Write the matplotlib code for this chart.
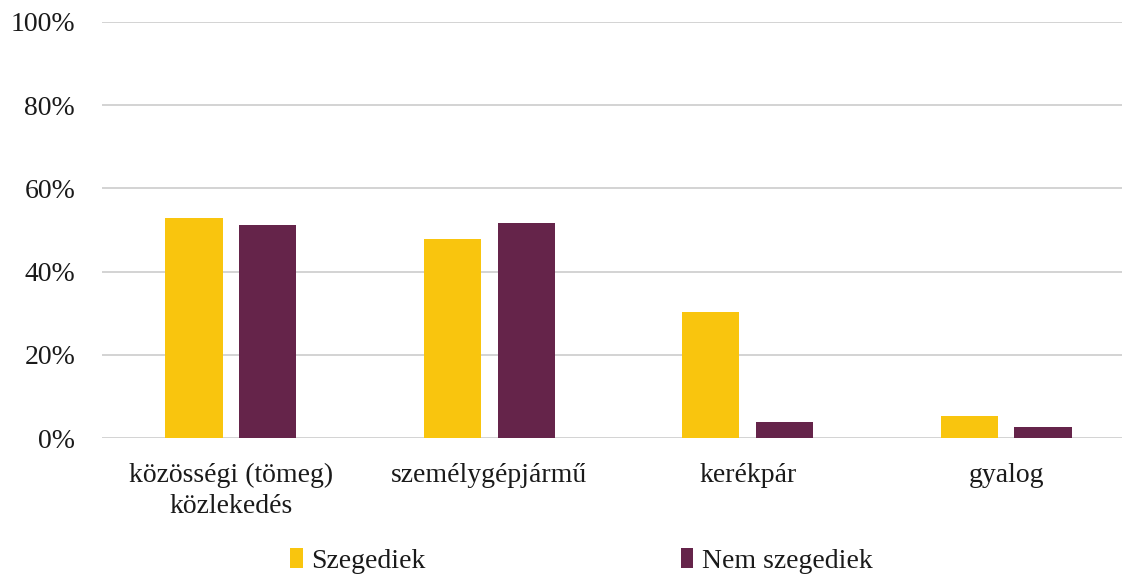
import numpy as np
import matplotlib.pyplot as plt
from matplotlib.ticker import PercentFormatter

categories = ['közösségi (tömeg)\nközlekedés', 'személygépjármű', 'kerékpár', 'gyalog']
szegediek = [52.8, 47.9, 30.4, 5.2]
nem_szegediek = [51.1, 51.6, 3.8, 2.6]
series_names = ['Szegediek', 'Nem szegediek']

plt.rcParams['font.family'] = ['Liberation Serif', 'DejaVu Serif']

fig = plt.figure(figsize=(11.22, 5.78), dpi=100)
ax = fig.add_axes([0.0905, 0.2422, 0.9095, 0.7198])

x = np.arange(len(categories))
w = 0.222
ax.bar(x - 0.143, szegediek, w, color='#F9C50E', label=series_names[0], zorder=3)
ax.bar(x + 0.143, nem_szegediek, w, color='#65244A', label=series_names[1], zorder=3)

ax.set_ylim(0, 100)
ax.set_xlim(-0.5, 3.448)
ax.set_yticks(np.arange(0, 101, 20))
ax.yaxis.set_major_formatter(PercentFormatter(decimals=0))
ax.grid(axis='y', color='#d0d0d0', linewidth=1.3, zorder=0)
for s in ax.spines.values():
    s.set_visible(False)
ax.tick_params(axis='y', length=0, pad=19, labelsize=20, colors='#1a1a1a')
ax.tick_params(axis='x', length=0, pad=18, labelsize=20, colors='#1a1a1a')
ax.set_xticks(x)
ax.set_xticklabels(categories, linespacing=1.3)

fig.legend(loc='center', bbox_to_anchor=(0.518, 0.03), ncol=2, frameon=False,
           fontsize=20, handlelength=0.45, handleheight=0.75, handletextpad=0.3,
           columnspacing=9.2, labelcolor='#1a1a1a', borderpad=0.1)

fig.savefig('out.png', dpi=100)
